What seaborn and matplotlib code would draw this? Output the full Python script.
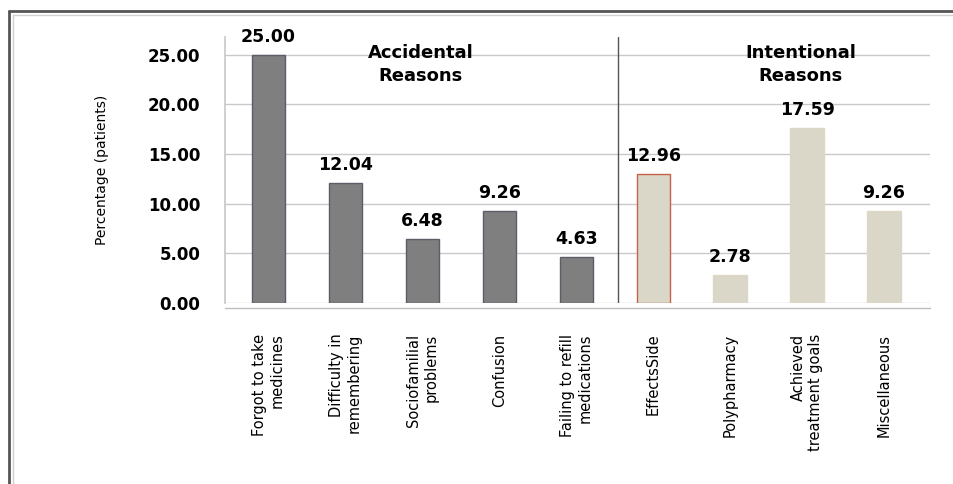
import pandas as pd
import matplotlib.pyplot as plt
import seaborn as sns
from matplotlib.lines import Line2D

# Reasons for non-adherence (percentage of patients)
reasons = [
    "Forgot to take\nmedicines",
    "Difficulty in\nremembering",
    "Sociofamilial\nproblems",
    "Confusion",
    "Failing to refill\nmedications",
    "EffectsSide",
    "Polypharmacy",
    "Achieved\ntreatment goals",
    "Miscellaneous",
]
percentages = [25.00, 12.04, 6.48, 9.26, 4.63, 12.96, 2.78, 17.59, 9.26]
groups = ["Accidental"] * 5 + ["Intentional"] * 4
y_ticks = [0, 5, 10, 15, 20, 25]

df = pd.DataFrame({"reason": reasons, "pct": percentages, "group": groups})


def main():
    sns.set_theme(style="white")
    plt.rcParams["font.family"] = ["DejaVu Sans"]
    plt.rcParams["text.color"] = "black"
    plt.rcParams["axes.labelcolor"] = "black"
    plt.rcParams["xtick.color"] = "black"
    plt.rcParams["ytick.color"] = "black"

    fig = plt.figure(figsize=(9.54, 4.84), dpi=100)
    ax = fig.add_axes([0.236, 0.374, 0.739, 0.550])

    sns.barplot(data=df, x="reason", y="pct", hue="group",
                palette={"Accidental": "#7f7f7f", "Intentional": "#ddd8c5"},
                dodge=False, width=0.43, legend=False, ax=ax)

    # edge colours like the original bars
    for i, patch in enumerate(ax.patches[:len(reasons)]):
        if groups[i] == "Accidental":
            patch.set_edgecolor("#5d5d6a")
        else:
            patch.set_edgecolor("#ddd8c5")
        patch.set_linewidth(1.0)
    ax.patches[5].set_edgecolor("#c8614c")

    ax.set_ylim(0, 26.8)
    ax.set_xlim(-0.56, 8.6)
    ax.set_yticks(y_ticks)
    ax.set_yticklabels([f"{v:.2f}" for v in y_ticks], fontsize=12, fontweight="bold")
    ax.yaxis.grid(True, color="#c9c9c9", linewidth=1)
    ax.set_axisbelow(True)
    for s in ["top", "right", "bottom"]:
        ax.spines[s].set_visible(False)
    ax.spines["left"].set_color("#c9c9c9")
    ax.tick_params(axis="y", length=0, pad=18)
    ax.tick_params(axis="x", length=0, pad=22)

    ax.set_xlabel("")
    ax.set_ylabel("Percentage (patients)", fontsize=10, labelpad=28)
    ax.set_xticks(range(len(reasons)))
    ax.set_xticklabels(reasons, rotation=90, fontsize=10.5, ha="center",
                       va="top", multialignment="right")

    # value labels above bars
    for i, v in enumerate(percentages):
        ax.text(i, v + 0.9, f"{v:.2f}", ha="center", va="bottom",
                fontsize=12.5, fontweight="bold")

    # divider between groups and group titles
    ax.axvline(4.55, ymin=-0.03, ymax=1.0, color="#555555", linewidth=1)
    ax.text(1.98, 24.0, "Accidental\nReasons", ha="center", va="center",
            fontsize=13, fontweight="bold", linespacing=1.3)
    ax.text(6.92, 24.0, "Intentional\nReasons", ha="center", va="center",
            fontsize=13, fontweight="bold", linespacing=1.3)

    # floor line
    ax.axhline(-0.5, color="#bdbdbd", linewidth=1, clip_on=False)

    # outer frame of the picture
    fig.add_artist(Line2D([0.009, 1.0], [0.978, 0.978], color="#555555",
                          linewidth=2, transform=fig.transFigure))
    fig.add_artist(Line2D([0.009, 0.009], [0.0, 0.978], color="#555555",
                          linewidth=2, transform=fig.transFigure))
    fig.add_artist(Line2D([0.014, 1.0], [0.97, 0.97], color="#d0d0d0",
                          linewidth=1, transform=fig.transFigure))
    fig.add_artist(Line2D([0.014, 0.014], [0.0, 0.97], color="#d0d0d0",
                          linewidth=1, transform=fig.transFigure))

    fig.savefig("out.png", dpi=100)


if __name__ == "__main__":
    main()
